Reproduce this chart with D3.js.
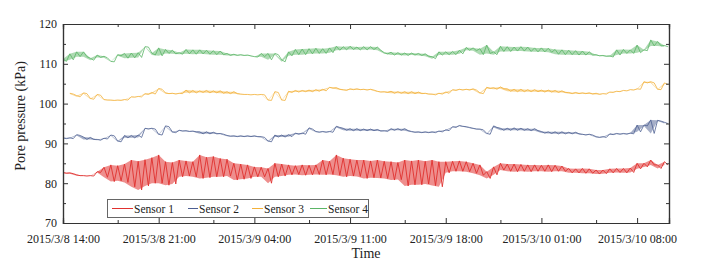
<!DOCTYPE html>
<html><head><meta charset="utf-8">
<script src="https://cdn.jsdelivr.net/npm/d3@7"></script>
<style>body{margin:0;background:#fff}svg{display:block}</style>
</head><body>
<svg id="chart" width="711" height="266"></svg>
<script>
// ---------- data ----------
// each series: highest and lowest reading in each 30-minute interval
const startTime = "2015-03-08 14:00";
const endTime = "2015-03-10 10:20";
const stepMinutes = 30;
const seriesNames = ["Sensor 1", "Sensor 2", "Sensor 3", "Sensor 4"];
const seriesColors = ["#e0312f", "#4d5f92", "#f3b13a", "#5bb566"];

const s1Hi = [82.7,82.6,82.1,81.9,81.9,82.9,84.0,84.6,84.4,84.8,85.8,85.5,85.9,86.4,87.1,85.4,85.2,85.8,85.6,85.4,87.1,86.5,86.7,86.2,86.0,85.0,84.8,84.6,84.1,84.0,83.7,85.0,84.8,84.6,84.4,84.6,84.5,84.6,85.8,85.5,87.1,86.3,86.0,85.8,85.8,85.6,85.8,85.5,
  85.4,85.2,85.8,85.6,85.8,85.5,85.8,85.4,85.4,85.5,85.6,85.4,85.0,84.6,82.9,84.1,85.0,84.8,84.8,84.7,84.6,84.6,84.5,84.6,84.5,84.3,83.7,83.6,83.7,83.6,83.3,83.3,83.6,83.7,83.7,83.8,85.0,85.0,85.8,84.6,85.4];
const s1Lo = [82.5,82.4,81.9,81.8,81.8,82.7,81.5,80.4,80.6,80.2,79.1,78.3,79.3,80.0,80.0,79.5,79.8,81.6,81.8,81.6,81.2,81.4,81.6,81.6,81.8,80.8,81.0,81.2,81.6,81.6,80.0,81.6,81.8,82.1,82.2,82.0,82.1,82.2,82.1,82.2,82.0,81.6,81.8,81.7,81.2,81.4,81.3,81.2,
  80.8,80.9,79.3,79.6,79.6,79.8,79.4,79.1,82.6,83.0,83.0,82.9,82.5,82.0,81.2,82.1,83.3,83.0,82.9,83.0,82.9,83.0,83.0,82.9,83.0,83.0,82.6,82.6,82.5,82.5,82.3,82.4,82.6,82.7,82.6,82.7,83.6,84.1,84.6,83.7,84.6];

const s2Hi = [91.4,91.4,92.2,91.6,91.5,91.0,91.3,92.1,90.6,92.0,92.0,92.1,93.8,93.8,92.3,94.4,92.9,93.3,93.2,93.1,92.9,92.9,92.8,92.5,92.0,91.9,91.9,91.9,91.9,91.7,90.6,92.1,92.1,92.2,92.6,92.6,93.9,93.0,93.0,93.0,94.3,93.8,93.7,93.7,93.6,93.6,93.5,93.2,
  93.7,93.7,93.7,93.0,92.9,92.9,92.9,93.1,93.4,94.2,94.5,94.2,93.8,93.6,92.5,94.4,93.8,93.8,93.9,93.8,93.7,93.7,93.0,92.9,92.9,92.9,92.8,92.8,92.3,92.3,91.7,91.7,92.4,92.5,92.5,92.6,94.6,94.6,95.9,95.8,95.3];
const s2Lo = [91.2,91.2,92.0,91.0,91.0,90.8,91.1,91.9,90.4,91.4,91.4,91.5,93.6,93.6,92.1,94.2,92.7,93.1,93.0,92.9,92.4,92.4,92.4,92.3,91.8,91.7,91.7,91.7,91.7,91.5,90.4,91.6,91.6,91.7,92.3,92.3,93.6,92.8,92.8,92.8,94.0,93.3,93.2,93.2,93.2,93.2,93.1,93.0,
  93.3,93.3,93.2,92.8,92.7,92.7,92.7,92.9,93.2,94.0,94.3,94.0,93.6,93.4,92.3,94.0,93.3,93.3,93.3,93.3,93.2,93.2,92.6,92.5,92.4,92.4,92.4,92.4,92.1,92.1,91.5,91.5,92.2,92.3,92.3,92.4,92.9,94.4,92.5,95.6,95.0];

const s3Hi = [null,102.6,102.0,102.7,101.3,102.3,101.0,100.9,100.9,101.0,101.7,101.8,102.5,102.8,103.8,102.7,102.6,102.6,103.4,103.3,103.2,103.3,103.2,103.2,103.0,103.0,102.4,102.3,102.3,102.3,100.9,103.0,100.9,103.1,103.3,103.3,103.4,103.5,103.6,104.1,104.0,103.5,103.7,103.7,103.6,103.6,103.1,103.0,
  103.1,103.0,103.0,103.0,102.9,102.6,102.4,102.6,102.9,103.5,103.6,103.6,103.7,102.7,104.1,104.0,104.2,103.7,103.6,103.6,103.5,103.5,103.4,103.4,103.3,103.2,102.8,102.8,102.7,102.7,102.6,102.5,102.9,103.1,103.3,103.5,103.7,105.5,105.5,103.6,105.2];
const s3Lo = [null,102.4,101.7,102.5,101.1,102.1,100.9,100.8,100.8,100.9,101.6,101.7,102.3,102.4,103.6,102.5,102.4,102.5,102.7,102.7,102.8,102.7,102.7,102.6,102.5,102.5,102.3,102.2,102.2,102.2,100.8,102.8,100.8,102.8,102.9,103.0,103.0,103.1,103.2,103.9,103.6,103.3,103.5,103.5,103.4,103.4,102.9,102.8,
  102.6,102.6,102.5,102.5,102.5,102.4,102.2,102.4,102.6,103.3,103.4,103.4,103.4,102.5,103.8,103.6,103.7,103.1,103.0,103.0,103.0,103.0,102.9,102.9,102.8,102.8,102.5,102.5,102.5,102.4,102.3,102.4,102.8,103.0,103.2,103.4,103.6,105.2,105.2,103.5,104.8];

const s4Hi = [111.2,112.5,113.0,113.0,111.4,112.2,111.9,110.6,112.3,112.6,112.7,112.8,114.3,112.7,114.0,113.6,113.4,112.8,113.6,113.5,113.5,113.4,113.3,113.2,112.6,112.4,112.3,112.2,111.8,112.6,112.6,112.6,111.0,113.0,113.6,113.7,113.8,113.9,113.8,114.0,114.4,114.3,114.4,114.2,114.3,114.3,114.2,112.8,
  112.9,112.8,112.7,112.7,112.6,112.5,111.8,113.0,113.0,113.1,113.4,114.1,114.0,113.8,114.7,113.0,114.4,114.3,114.2,114.3,114.2,114.0,114.0,113.9,113.6,113.5,113.4,113.3,113.2,113.0,112.3,112.1,112.0,113.5,113.6,113.5,114.7,113.5,116.0,115.6,114.6];
const s4Lo = [110.6,111.0,111.8,111.8,110.9,111.6,111.5,110.5,112.0,111.4,111.5,111.6,114.2,112.2,112.0,112.6,112.5,112.4,112.5,112.4,112.5,112.4,112.3,112.3,112.1,112.1,112.1,112.0,111.7,111.8,111.0,112.3,110.5,112.0,112.3,112.3,112.5,112.6,112.6,112.8,113.4,113.5,113.6,113.5,113.5,113.6,113.4,112.5,
  112.2,112.2,112.1,112.2,112.1,111.9,111.3,112.2,112.3,112.3,112.5,113.4,113.3,112.3,112.6,112.3,113.1,113.1,113.2,113.2,113.1,113.0,113.0,112.9,112.4,112.3,112.3,112.2,112.2,112.2,112.0,111.9,111.7,112.2,112.6,112.6,112.8,113.3,114.5,114.5,114.3];

const xTickLabels = ["2015/3/8 14:00","2015/3/8 21:00","2015/3/9 04:00","2015/3/9 11:00","2015/3/9 18:00","2015/3/10 01:00","2015/3/10 08:00"];
const yTickValues = [70, 80, 90, 100, 110, 120];
const yMinorValues = [75, 85, 95, 105, 115];
const yTitle = "Pore pressure (kPa)";
const xTitle = "Time";

// ---------- layout ----------
const L = 63, R = 669, T = 24, B = 223;
const svg = d3.select("#chart");
const font = "'Liberation Serif','Times New Roman',serif";
const parse = d3.timeParse("%Y-%m-%d %H:%M");
const parseLbl = d3.timeParse("%Y/%m/%d %H:%M");
const t0 = parse(startTime);

const x = d3.scaleTime().domain([t0, parse(endTime)]).range([L, R]);
const y = d3.scaleLinear().domain([70, 120]).range([B, T]);

const his = [s1Hi, s2Hi, s3Hi, s4Hi], los = [s1Lo, s2Lo, s3Lo, s4Lo];
const series = seriesNames.map((name, k) => {
  const band = his[k].map((h, i) => ({ t: d3.timeMinute.offset(t0, i * stepMinutes), hi: h, lo: los[k][i] }));
  // trace: interval max at the interval start, interval min half-way through
  const pts = [];
  band.forEach(d => {
    pts.push({ t: d.t, v: d.hi });
    pts.push({ t: d3.timeMinute.offset(d.t, stepMinutes / 2), v: d.lo });
  });
  return { name, color: seriesColors[k], band, pts };
});

svg.append("defs").append("clipPath").attr("id", "clp")
  .append("rect").attr("x", L).attr("y", T).attr("width", R - L).attr("height", B - T);

const plot = svg.append("g").attr("clip-path", "url(#clp)");
const area = d3.area().defined(d => d.hi != null).x(d => x(d.t)).y0(d => y(d.lo)).y1(d => y(d.hi));
const line = d3.line().defined(d => d.v != null).x(d => x(d.t)).y(d => y(d.v));
series.forEach((s, k) => {
  plot.append("path").datum(s.band).attr("d", area)
    .attr("fill", s.color).attr("fill-opacity", k === 0 ? 0.55 : 0.5).attr("stroke", "none");
  plot.append("path").datum(s.pts).attr("d", line)
    .attr("fill", "none").attr("stroke", s.color).attr("stroke-width", k === 0 ? 0.9 : 0.8);
});

// ---------- axes ----------
const axisColor = "#333";
const majorTimes = xTickLabels.map(s => parseLbl(s));
const minorTimes = majorTimes.map(d => d3.timeHour.offset(d, 4)).filter(d => d < x.domain()[1]);
function fmt(d) { return xTickLabels[majorTimes.findIndex(m => +m === +d)]; }

svg.append("g").attr("transform", `translate(0,${B})`)
  .call(d3.axisBottom(x).tickValues(majorTimes).tickSize(-5).tickPadding(11).tickFormat(fmt));
svg.append("g").attr("transform", `translate(0,${B})`)
  .call(d3.axisBottom(x).tickValues(minorTimes).tickSize(-3).tickFormat(""));
svg.append("g").attr("transform", `translate(0,${T})`)
  .call(d3.axisTop(x).tickValues(majorTimes).tickSize(-5).tickFormat(""));
svg.append("g").attr("transform", `translate(0,${T})`)
  .call(d3.axisTop(x).tickValues(minorTimes).tickSize(-3).tickFormat(""));

svg.append("g").attr("transform", `translate(${L},0)`)
  .call(d3.axisLeft(y).tickValues(yTickValues).tickSize(-5).tickPadding(6).tickFormat(d3.format("d")));
svg.append("g").attr("transform", `translate(${L},0)`)
  .call(d3.axisLeft(y).tickValues(yMinorValues).tickSize(-3).tickFormat(""));
svg.append("g").attr("transform", `translate(${R},0)`)
  .call(d3.axisRight(y).tickValues(yTickValues).tickSize(-5).tickFormat(""));
svg.append("g").attr("transform", `translate(${R},0)`)
  .call(d3.axisRight(y).tickValues(yMinorValues).tickSize(-3).tickFormat(""));

svg.selectAll(".domain").attr("stroke", axisColor).attr("stroke-width", 1.2);
svg.selectAll(".tick line").attr("stroke", axisColor);
svg.selectAll(".tick text").attr("font-family", font).attr("font-size", 12).attr("fill", "#222");

svg.append("text").attr("x", (L + R) / 2).attr("y", 258).attr("text-anchor", "middle")
  .attr("font-family", font).attr("font-size", 14).attr("fill", "#222").text(xTitle);
svg.append("text").attr("transform", "translate(25,116) rotate(-90)").attr("text-anchor", "middle")
  .attr("font-family", font).attr("font-size", 14).attr("fill", "#222").text(yTitle);

// ---------- legend ----------
const lg = svg.append("g");
lg.append("rect").attr("x", 107.5).attr("y", 199.5).attr("width", 261).attr("height", 18)
  .attr("fill", "#fff").attr("stroke", "#666").attr("stroke-width", 1);
const legendLineX = [112, 188, 252, 310];
const legendLineLen = [21, 10, 11, 17];
series.forEach((s, k) => {
  const lx = legendLineX[k];
  lg.append("line").attr("x1", lx).attr("x2", lx + legendLineLen[k]).attr("y1", 208.5).attr("y2", 208.5)
    .attr("stroke", s.color).attr("stroke-width", 1);
  lg.append("text").attr("x", lx + legendLineLen[k] + 1).attr("y", 212.5)
    .attr("font-family", font).attr("font-size", 11.5).attr("fill", "#222").text(s.name);
});
</script>
</body></html>
